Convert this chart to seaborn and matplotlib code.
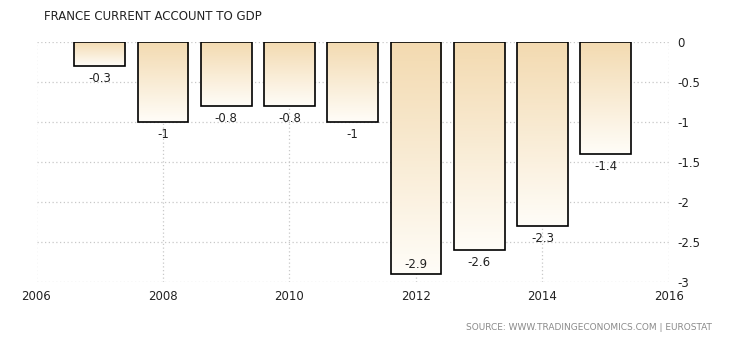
import numpy as np
import pandas as pd
import matplotlib
matplotlib.use("Agg")
import matplotlib.pyplot as plt
import seaborn as sns
from matplotlib.colors import LinearSegmentedColormap

years = [2007, 2008, 2009, 2010, 2011, 2012, 2013, 2014, 2015]
values = [-0.3, -1.0, -0.8, -0.8, -1.0, -2.9, -2.6, -2.3, -1.4]
labels = ["-0.3", "-1", "-0.8", "-0.8", "-1", "-2.9", "-2.6", "-2.3", "-1.4"]
x_ticks = [2006, 2008, 2010, 2012, 2014, 2016]
y_ticks = [0, -0.5, -1, -1.5, -2, -2.5, -3]
y_tick_labels = ["0", "-0.5", "-1", "-1.5", "-2", "-2.5", "-3"]

sns.set_theme(style="white")
plt.rcParams['font.family'] = ['DejaVu Sans']

df = pd.DataFrame({"year": years, "value": values})

fig = plt.figure(figsize=(7.3, 3.4), dpi=100)
ax = fig.add_axes([0.05, 0.1706, 0.8664, 0.7059])

sns.barplot(data=df, x="year", y="value", native_scale=True, width=0.8,
            color="white", edgecolor="black", linewidth=1.2, ax=ax, zorder=3)

cmap = LinearSegmentedColormap.from_list("g", ["#fffdf8", "#f3dab0"])
grad = np.linspace(0, 1, 256).reshape(-1, 1)
for p in list(ax.patches):
    x0, y0 = p.get_x(), p.get_y()
    w, h = p.get_width(), p.get_height()
    top = max(y0, y0 + h)
    bot = min(y0, y0 + h)
    p.set_facecolor("none")
    p.set_zorder(4)
    im = ax.imshow(grad, cmap=cmap, aspect="auto", origin="lower",
                   extent=[x0, x0 + w, bot, top], zorder=3, interpolation="bilinear")
    im.set_clip_path(p)

for yr, v, lab in zip(years, values, labels):
    if v < -2.75:
        ax.text(yr, v + 0.04, lab, ha="center", va="bottom", fontsize=8.5, color="#222222", zorder=5)
    else:
        ax.text(yr, v - 0.07, lab, ha="center", va="top", fontsize=8.5, color="#222222", zorder=5)

ax.set_xlim(2006, 2016)
ax.set_ylim(-3, 0)
ax.set_xticks(x_ticks)
ax.set_xticklabels([str(t) for t in x_ticks], fontsize=8.5, color="#222222")
ax.set_yticks(y_ticks)
ax.set_yticklabels(y_tick_labels, fontsize=8.5, color="#222222")
ax.yaxis.tick_right()
ax.tick_params(axis="both", length=0, pad=6)
ax.grid(True, linestyle=(0, (1, 2)), color="#c8c8c8", linewidth=0.9, zorder=0)
ax.set_axisbelow(True)
for s in ax.spines.values():
    s.set_visible(False)
ax.set_xlabel("")
ax.set_ylabel("")

fig.text(44 / 730, 1 - 17 / 340, "FRANCE CURRENT ACCOUNT TO GDP", fontsize=8.5,
         color="#222222", va="center", ha="left")
fig.text(712 / 730, 1 - 327 / 340, "SOURCE: WWW.TRADINGECONOMICS.COM | EUROSTAT",
         fontsize=6.5, color="#8a8a8a", va="center", ha="right")

fig.savefig("out.png", dpi=100)
